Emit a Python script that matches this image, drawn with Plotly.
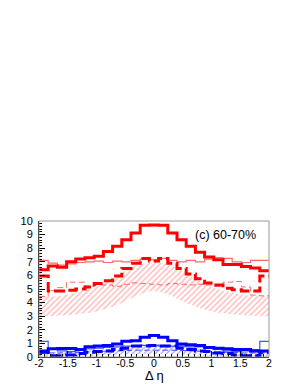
import numpy as np
import plotly.graph_objects as go

# 25 bins from -2 to 2
bin_edges = np.linspace(-2, 2, 26)

red_thick_solid = [6.42, 6.7, 6.6, 7.0, 7.2, 7.3, 7.4, 7.75, 8.15, 8.62, 9.12, 9.68, 9.7,
                   9.68, 9.12, 8.62, 8.15, 7.7, 7.35, 7.15, 6.8, 6.8, 6.65, 6.55, 6.35]
red_thin_solid = [7.1, 6.9, 6.75, 6.85, 6.95, 7.0, 7.05, 6.95, 7.05, 7.0, 7.1, 7.2, 7.15,
                  7.25, 7.1, 7.0, 7.1, 7.0, 7.2, 7.3, 7.25, 7.0, 6.95, 7.1, 7.1]
red_thick_dash = [5.95, 4.85, 4.85, 4.9, 5.0, 5.15, 5.4, 5.6, 5.95, 6.5, 6.9, 7.25, 7.05,
                  7.25, 6.9, 6.5, 6.1, 5.75, 5.45, 5.3, 5.05, 4.95, 4.85, 4.85, 5.95]
red_thin_dash = [4.45, 4.9, 5.1, 5.5, 5.5, 5.2, 5.3, 5.3, 5.2, 5.35, 5.45, 5.4, 5.35,
                 5.3, 5.4, 5.35, 5.3, 5.35, 5.3, 5.2, 5.5, 5.55, 5.15, 4.55, 4.5]

blue_thick_solid = [0.45, 0.6, 0.62, 0.62, 0.55, 0.75, 0.8, 0.85, 0.95, 1.15, 1.2, 1.45, 1.58,
                    1.45, 1.2, 0.95, 0.9, 0.85, 0.7, 0.65, 0.6, 0.55, 0.55, 0.45, 0.45]
blue_thin_solid = [1.15, 0.55, 0.45, 0.4, 0.5, 0.6, 0.65, 0.7, 0.75, 0.8, 0.8, 0.85, 0.85,
                   0.8, 0.8, 0.8, 0.75, 0.75, 0.65, 0.55, 0.45, 0.4, 0.45, 0.55, 1.15]
blue_thick_dash = [0.35, 0.1, 0.1, 0.15, 0.25, 0.35, 0.4, 0.45, 0.55, 0.65, 0.8, 0.8, 0.85,
                   0.8, 0.8, 0.65, 0.55, 0.45, 0.4, 0.3, 0.25, 0.15, 0.1, 0.1, 0.35]
blue_thin_dash = [0.3, 0.3, 0.3, 0.32, 0.35, 0.38, 0.4, 0.42, 0.45, 0.48, 0.5, 0.5, 0.5,
                  0.5, 0.5, 0.48, 0.45, 0.42, 0.4, 0.38, 0.35, 0.32, 0.3, 0.3, 0.3]

band_x = [-2, -1.75, -1.5, -1.25, -1, -0.75, -0.5, -0.25, 0, 0.25, 0.5, 0.75, 1, 1.25, 1.5, 1.75, 2]
red_band_low = [3.0, 3.02, 3.08, 3.2, 3.35, 3.65, 4.1, 4.6, 4.85, 4.6, 4.1, 3.65, 3.35, 3.2, 3.08, 3.02, 3.0]
red_band_high = [4.4, 4.45, 4.6, 4.85, 5.15, 5.7, 6.3, 6.8, 6.95, 6.8, 6.3, 5.7, 5.15, 4.85, 4.6, 4.5, 4.5]
blue_band_low = [0.05, 0.05, 0.06, 0.07, 0.1, 0.13, 0.18, 0.22, 0.24, 0.22, 0.18, 0.13, 0.1, 0.07, 0.06, 0.05, 0.05]
blue_band_high = [0.35, 0.37, 0.4, 0.45, 0.52, 0.65, 0.8, 0.92, 0.95, 0.92, 0.8, 0.65, 0.52, 0.45, 0.4, 0.37, 0.35]

label_text = "(c) 60-70%"
x_title = "Δ η"

fig = go.Figure()


def add_band(low, high, color):
    fig.add_trace(go.Scatter(x=band_x, y=low, mode="lines", line=dict(width=0, shape="spline"),
                             hoverinfo="skip", showlegend=False))
    fig.add_trace(go.Scatter(x=band_x, y=high, mode="lines", line=dict(width=0, shape="spline"),
                             fill="tonexty", fillcolor="rgba(0,0,0,0)",
                             fillpattern=dict(shape="/", fgcolor=color, bgcolor="rgba(0,0,0,0)",
                                              size=4, solidity=0.35),
                             hoverinfo="skip", showlegend=False))


def add_hist(vals, color, width, dash):
    xs = list(bin_edges)
    ys = list(vals) + [vals[-1]]
    fig.add_trace(go.Scatter(x=xs, y=ys, mode="lines",
                             line=dict(color=color, width=width, dash=dash, shape="hv"),
                             showlegend=False))


add_band(red_band_low, red_band_high, "rgba(255,60,60,0.75)")
add_band(blue_band_low, blue_band_high, "rgba(40,40,255,0.75)")

add_hist(red_thin_dash, "rgba(255,90,90,0.9)", 1, "6px,3px")
add_hist(red_thin_solid, "rgba(255,90,90,0.9)", 1.2, "solid")
add_hist(red_thick_dash, "#ff0000", 3, "11px,4px")
add_hist(red_thick_solid, "#ff0000", 3, "solid")

add_hist(blue_thin_dash, "rgba(60,60,255,0.9)", 1, "6px,3px")
add_hist(blue_thin_solid, "rgba(60,60,255,0.9)", 1.2, "solid")
add_hist(blue_thick_dash, "#0000ff", 3, "11px,4px")
add_hist(blue_thick_solid, "#0000ff", 3, "solid")

fig.add_annotation(x=0.95, y=0.9, xref="paper", yref="paper", text=label_text,
                   showarrow=False, xanchor="right", yanchor="middle",
                   font=dict(family="Liberation Sans, Arial", size=12.5, color="black"))
fig.add_annotation(x=0.5, y=-0.2, xref="paper", yref="paper", text=x_title,
                   showarrow=False, xanchor="center", yanchor="bottom", borderpad=0,
                   font=dict(family="Liberation Sans, Arial", size=13, color="black"))

fig.add_shape(type="rect", xref="paper", yref="paper", x0=0, y0=0, x1=1, y1=1,
              line=dict(color="#999999", width=1), layer="above")

fig.update_xaxes(range=[-2, 2], tickmode="array",
                 tickvals=[-2, -1.5, -1, -0.5, 0, 0.5, 1, 1.5, 2],
                 ticktext=["-2", "-1.5", "-1", "-0.5", "0", "0.5", "1", "1.5", "2"],
                 ticks="inside", ticklen=6, tickcolor="black", tickwidth=1,
                 minor=dict(ticks="inside", ticklen=3, dtick=0.1, tickcolor="black"),
                 showline=True, linecolor="black", linewidth=1, mirror=False,
                 showgrid=False, zeroline=False, ticklabelstandoff=-4,
                 tickfont=dict(family="Liberation Sans, Arial", size=10.5, color="black"))
fig.update_yaxes(range=[0, 10], tickmode="linear", tick0=0, dtick=1,
                 ticks="inside", ticklen=6, tickcolor="black", tickwidth=1,
                 minor=dict(ticks="inside", ticklen=3, dtick=0.2, tickcolor="black"),
                 showline=True, linecolor="black", linewidth=1, mirror=False,
                 showgrid=False, zeroline=False, ticklabelstandoff=3,
                 tickfont=dict(family="Liberation Sans, Arial", size=11, color="black"))

fig.update_layout(width=297, height=384, margin=dict(l=39, r=28, t=221, b=27),
                  paper_bgcolor="white", plot_bgcolor="white", showlegend=False)

fig.write_html("out.html", config={"displayModeBar": False},
               post_script="document.body.style.margin='0px';document.body.style.overflow='hidden';")
